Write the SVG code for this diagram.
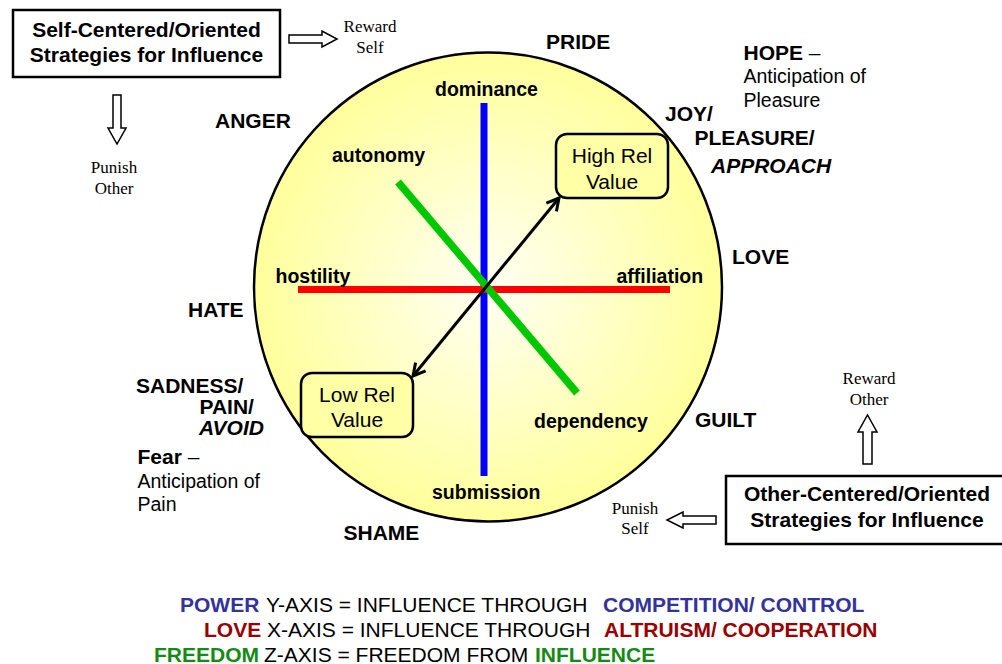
<svg xmlns="http://www.w3.org/2000/svg" width="1002" height="664" viewBox="0 0 1002 664">
<defs>
<radialGradient id="fillg" cx="0.5" cy="0.5" r="0.5">
<stop offset="0" stop-color="#FFFFF4"/>
<stop offset="1" stop-color="#FFFF9C"/>
</radialGradient>
<marker id="vh" viewBox="0 0 16 16" markerUnits="userSpaceOnUse" markerWidth="16" markerHeight="16" refX="14" refY="8" orient="auto-start-reverse">
<path d="M2,1.5 L14,8 L2,14.5" fill="none" stroke="#000" stroke-width="3" stroke-linejoin="miter"/>
</marker>
<style>
text{font-family:"Liberation Sans",Arial,sans-serif;fill:#000}
.emo{font-size:21px;font-weight:bold}
.lab{font-size:19.5px;font-weight:bold}
.reg{font-size:19.5px}
.box{font-size:21px;font-weight:bold}
.val{font-size:21px}
.tm{font-family:"Liberation Serif","Times New Roman",serif;font-size:17px}
.blk{fill:#fff;stroke:#000;stroke-width:1.5}
.frame{fill:#fff;stroke:#000;stroke-width:2.5}
.rbox{fill:#FFFFA6;stroke:#000;stroke-width:2.5}
.leg{font-size:21px}
.b{font-weight:bold}
.pw{fill:#333399}
.lv{fill:#990000}
.fr{fill:#158A15}
</style>
</defs>
<rect width="1002" height="664" fill="#fff"/>

<g id="sphere">
<ellipse cx="488" cy="287" rx="234" ry="234.5" fill="url(#fillg)" stroke="#000" stroke-width="2.5"/>
</g>

<g id="axes">
<line x1="484" y1="103" x2="484" y2="476" stroke="#0000FF" stroke-width="7"/>
<line x1="298" y1="289.5" x2="670" y2="289.5" stroke="#FF0000" stroke-width="7"/>
<line x1="398" y1="182" x2="577" y2="393" stroke="#00C800" stroke-width="7.5"/>
</g>

<g id="connectors">
<line x1="413" y1="376" x2="559" y2="198" stroke="#000" stroke-width="3" marker-start="url(#vh)" marker-end="url(#vh)"/>
<polygon class="blk" points="289,35 322,35 322,31 337,39 322,47 322,43 289,43"/>
<polygon class="blk" points="113,95 121,95 121,128 126,128 117,144 108,128 113,128"/>
<polygon class="blk" points="863,464 872,464 872,432 877,432 867.5,415 858,432 863,432"/>
<polygon class="blk" points="716,516 683,516 683,512 667,520 683,528 683,524 716,524"/>
</g>

<g id="high-rel">
<rect class="rbox" x="556" y="134" width="112" height="64" rx="11"/>
<text class="val" x="612" y="163" text-anchor="middle">High Rel</text>
<text class="val" x="612" y="189" text-anchor="middle">Value</text>
</g>
<g id="low-rel">
<rect class="rbox" x="301" y="373" width="112" height="64" rx="11"/>
<text class="val" x="357" y="401.5" text-anchor="middle">Low Rel</text>
<text class="val" x="357" y="427" text-anchor="middle">Value</text>
</g>

<g id="axis-labels">
<text class="lab" x="435" y="96">dominance</text>
<text class="lab" x="332" y="162">autonomy</text>
<text class="lab" x="275.5" y="283">hostility</text>
<text class="lab" x="616.5" y="283">affiliation</text>
<text class="lab" x="534" y="428">dependency</text>
<text class="lab" x="432" y="499">submission</text>
</g>

<g id="self-box">
<rect class="frame" x="13" y="10" width="267" height="67"/>
<text class="box" x="146.5" y="36.5" text-anchor="middle">Self-Centered/Oriented</text>
<text class="box" x="146.5" y="62" text-anchor="middle">Strategies for Influence</text>
</g>
<g id="reward-self">
<text class="tm" x="370" y="32" text-anchor="middle">Reward</text>
<text class="tm" x="370" y="53" text-anchor="middle">Self</text>
</g>
<g id="punish-other">
<text class="tm" x="114" y="172.5" text-anchor="middle">Punish</text>
<text class="tm" x="114" y="193.5" text-anchor="middle">Other</text>
</g>

<g id="other-box">
<rect class="frame" x="726" y="476" width="290" height="68"/>
<text class="box" x="867" y="501" text-anchor="middle">Other-Centered/Oriented</text>
<text class="box" x="867" y="527" text-anchor="middle">Strategies for Influence</text>
</g>
<g id="reward-other">
<text class="tm" x="869" y="383.5" text-anchor="middle">Reward</text>
<text class="tm" x="869" y="404.5" text-anchor="middle">Other</text>
</g>
<g id="punish-self">
<text class="tm" x="635" y="513.5" text-anchor="middle">Punish</text>
<text class="tm" x="635" y="534" text-anchor="middle">Self</text>
</g>

<g id="emotions">
<text class="emo" x="546" y="48.5">PRIDE</text>
<text class="emo" x="743.5" y="59.5">HOPE <tspan font-weight="normal">–</tspan></text>
<text class="reg" x="743.5" y="83">Anticipation  of</text>
<text class="reg" x="743.5" y="107">Pleasure</text>
<text class="emo" x="665" y="121">JOY/</text>
<text class="emo" x="694.5" y="145">PLEASURE/</text>
<text class="emo" x="711" y="173" font-style="italic">APPROACH</text>
<text class="emo" x="732" y="264">LOVE</text>
<text class="emo" x="215" y="128">ANGER</text>
<text class="emo" x="188" y="317">HATE</text>
<text class="emo" x="136" y="392.5">SADNESS/</text>
<text class="emo" x="199.5" y="413.5">PAIN/</text>
<text class="emo" x="199" y="434.5" font-style="italic">AVOID</text>
<text class="emo" x="137.5" y="463.5">Fear <tspan font-weight="normal">–</tspan></text>
<text class="reg" x="137.5" y="488">Anticipation  of</text>
<text class="reg" x="137.5" y="511">Pain</text>
<text class="emo" x="695" y="427">GUILT</text>
<text class="emo" x="343.5" y="539.5">SHAME</text>
</g>

<g id="legend">
<text class="leg b pw" x="180" y="611.5">POWER</text>
<text class="leg" x="266" y="611.5">Y-AXIS = INFLUENCE THROUGH</text>
<text class="leg b pw" x="603" y="611.5">COMPETITION/ CONTROL</text>
<text class="leg b lv" x="204" y="636.5">LOVE</text>
<text class="leg" x="267" y="636.5">X-AXIS = INFLUENCE THROUGH</text>
<text class="leg b lv" x="604" y="636.5">ALTRUISM/ COOPERATION</text>
<text class="leg b fr" x="154" y="661.5">FREEDOM</text>
<text class="leg" x="264" y="661.5">Z-AXIS = FREEDOM FROM</text>
<text class="leg b fr" x="535" y="661.5">INFLUENCE</text>
</g>
</svg>
